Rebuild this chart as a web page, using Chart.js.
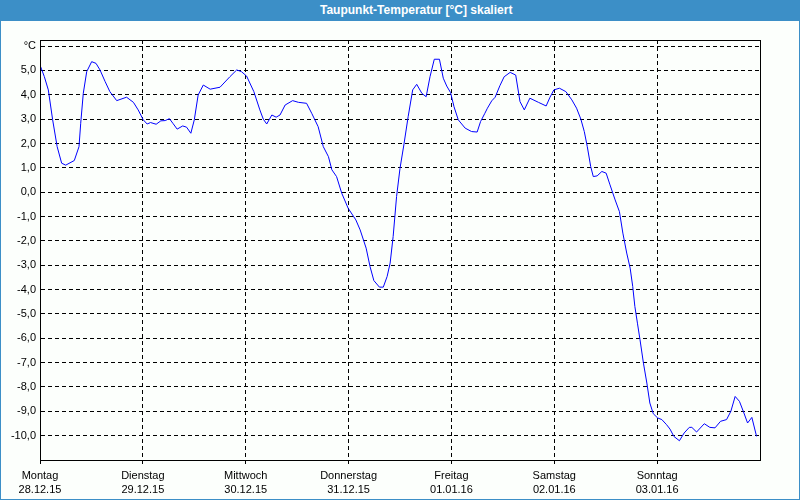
<!DOCTYPE html>
<html>
<head>
<meta charset="utf-8">
<script src="https://cdn.jsdelivr.net/npm/chart.js@4/dist/chart.umd.min.js"></script>
<style>
  html, body { margin: 0; padding: 0; }
  body { width: 800px; height: 500px; position: relative; background: #3c8fc7; overflow: hidden; }
  #inner { position: absolute; left: 1px; top: 21px; width: 798px; height: 478px; background: #fcfffc; }
  #title { position: absolute; left: 320px; top: 3px; font: bold 12px "Liberation Sans", Arial, sans-serif; line-height: 14px; color: #fff; white-space: nowrap; }
  #c { position: absolute; left: 0; top: 0; }
</style>
</head>
<body>
<div id="inner"></div>
<div id="title">Taupunkt-Temperatur [°C] skaliert</div>
<canvas id="c" width="800" height="500"></canvas>
<script>
// Day tick labels (x ticks every 24 h)
const dayNames = ['Montag', 'Dienstag', 'Mittwoch', 'Donnerstag', 'Freitag', 'Samstag', 'Sonntag'];
const dayDates = ['28.12.15', '29.12.15', '30.12.15', '31.12.15', '01.01.16', '02.01.16', '03.01.16'];
// Y tick values
const yTicks = [-10, -9, -8, -7, -6, -5, -4, -3, -2, -1, 0, 1, 2, 3, 4, 5, 6];
// Hours since Monday 00:00
const hours = [0, 1, 1.94, 2.95, 4, 5.05, 6, 8, 9.1, 9.5, 10.1, 10.9, 12.06, 13.07, 14, 15.2, 16.3, 17.9, 20.2, 21.8, 22.9,
  24.1, 25, 25.8, 27.1, 28.2, 29.2, 30.2, 31, 32, 33.3, 34.2, 35.2, 36, 36.9, 38.1, 39.7, 42, 44.3, 45.9, 47,
  48.2, 49.9, 51.3, 52.1, 52.9, 54.1, 55.1, 56, 57.2, 58.95, 60.3, 62.2, 63.4, 64.9, 66.1, 67.3, 68.1, 69.2, 70.4, 71.9,
  73.7, 74.7, 76.1, 77, 77.9, 79.2, 80.1, 81, 81.7, 82.4, 83.2, 84, 84.9, 85.9, 86.96, 87.9, 89.1, 90.1, 91, 92, 93.2,
  94.1, 94.9, 95.8, 96.6, 97.6, 99.2, 100.7, 102, 102.8, 103.8, 104.4, 105.4, 106.2, 107.3, 108.3, 109.7, 111, 112, 113,
  114.3, 116.3, 118.1, 119, 119.9, 121.2, 122.7, 124.1, 125.2, 126.2, 127, 127.7, 128.5, 129.1, 130, 131.1, 132.1, 133,
  134.2, 135.2, 136, 136.9, 137.7, 138.3, 138.8, 139.4, 140, 140.8, 141.6, 142.3, 143.1, 144.1, 145.1, 146.2, 147,
  147.9, 149.2, 150.3, 151.5, 152.1, 153.2, 155, 156.3, 157.5, 158.8, 160.2, 161.2, 162.2, 163.2, 164.1, 165.1, 166.1, 167.2];
// Dew point temperature (°C)
const dewPoint = [5.22, 4.75, 4.2, 2.97, 1.87, 1.19, 1.11, 1.3, 1.87, 2.83, 4.06, 4.95, 5.36, 5.29, 5.02, 4.54, 4.13, 3.76, 3.9, 3.69, 3.38,
  2.97, 2.8, 2.86, 2.79, 2.93, 2.94, 3.02, 2.83, 2.59, 2.72, 2.67, 2.42, 2.97, 3.99, 4.4, 4.23, 4.31, 4.74, 5.02, 4.95,
  4.77, 4.13, 3.38, 3.0, 2.8, 3.17, 3.08, 3.17, 3.58, 3.76, 3.69, 3.65, 3.24, 2.69, 1.87, 1.46, 0.92, 0.64, -0.04, -0.66,
  -1.14, -1.55, -2.3, -3.05, -3.63, -3.9, -3.9, -3.46, -2.91, -1.82, -0.18, 0.98, 1.94, 3.1, 4.2, 4.43, 4.06, 3.92, 4.74, 5.46, 5.46,
  4.68, 4.36, 4.09, 3.51, 2.97, 2.63, 2.49, 2.47, 2.9, 3.24, 3.45, 3.75, 3.9, 4.37, 4.74, 4.92, 4.81, 3.72, 3.38,
  3.86, 3.69, 3.54, 3.9, 4.2, 4.27, 4.13, 3.79, 3.45, 3.0, 2.49, 1.87, 1.05, 0.64, 0.67, 0.85, 0.78, 0.3,
  -0.32, -0.8, -1.68, -2.5, -3.12, -3.87, -4.69, -5.38, -6.06, -7.02, -7.84, -8.66, -9.1, -9.27, -9.34, -9.55, -9.73,
  -10.03, -10.21, -9.89, -9.66, -9.66, -9.85, -9.51, -9.66, -9.68, -9.41, -9.34, -9, -8.39, -8.59, -9, -9.48, -9.25, -10.03];

const points = hours.map((h, i) => ({ x: h, y: dewPoint[i] }));

const frame = {
  id: 'frame',
  afterDraw(chart) {
    const { ctx, chartArea: a } = chart;
    ctx.save();
    ctx.strokeStyle = '#000';
    ctx.lineWidth = 1;
    ctx.setLineDash([]);
    ctx.strokeRect(Math.round(a.left) + 0.5, Math.round(a.top) + 0.5, Math.round(a.right - a.left), Math.round(a.bottom - a.top));
    ctx.restore();
  }
};

Chart.defaults.font.family = '"Liberation Sans", Arial, sans-serif';
Chart.defaults.font.size = 11;
Chart.defaults.color = '#000';

new Chart(document.getElementById('c'), {
  type: 'line',
  data: {
    datasets: [{
      data: points,
      borderColor: '#0000ff',
      borderWidth: 1,
      pointRadius: 0,
      tension: 0,
      fill: false
    }]
  },
  options: {
    responsive: false,
    animation: false,
    events: [],
    layout: { padding: { left: 0, top: 40, right: 40, bottom: 0 } },
    plugins: { legend: { display: false }, tooltip: { enabled: false }, title: { display: false } },
    scales: {
      x: {
        type: 'linear',
        min: 0,
        max: 168,
        afterBuildTicks(scale) { scale.ticks = dayNames.map((d, i) => ({ value: i * 24 })); },
        afterFit(scale) { scale.height = 40; },
        ticks: {
          autoSkip: false,
          maxRotation: 0,
          padding: 5,
          font: { size: 11, lineHeight: 1.3 },
          callback(v) { const i = Math.round(v / 24); return [dayNames[i], dayDates[i]]; }
        },
        grid: { color: '#000', lineWidth: 1, tickLength: 4, tickBorderDash: [], drawTicks: true },
        border: { display: true, color: '#000', width: 1, dash: [4, 3] }
      },
      y: {
        type: 'linear',
        min: -11,
        max: 6.25,
        afterBuildTicks(scale) { scale.ticks = yTicks.map(v => ({ value: v })); },
        afterFit(scale) { scale.width = 40; },
        ticks: {
          autoSkip: false,
          padding: 4,
          callback(v) { return v === 6 ? '°C' : v.toFixed(1).replace('.', ','); }
        },
        grid: { color: '#000', lineWidth: 1, drawTicks: false },
        border: { display: true, color: '#000', width: 1, dash: [4, 3] }
      }
    }
  },
  plugins: [frame]
});
</script>
</body>
</html>
